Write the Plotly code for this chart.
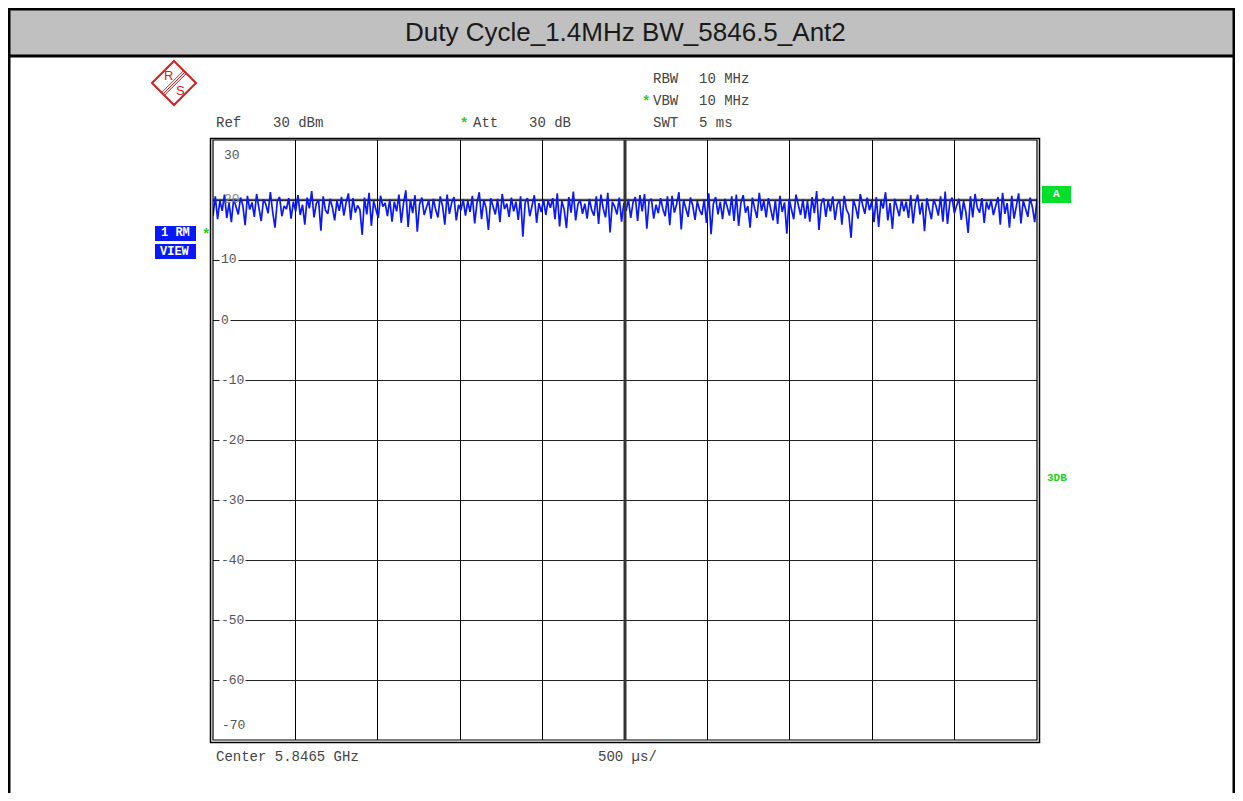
import numpy as np
import plotly.graph_objects as go

# Sweep trace (dBm), 360 points across 5 ms
level_dbm = [
    17.4, 20.6, 16.8, 19.9, 18.2, 20.9, 17.0, 19.5, 16.3, 20.2, 18.9, 17.6, 20.4, 19.1, 15.8, 20.7, 18.4, 19.6, 17.2, 21.0,
    18.7, 16.5, 20.1, 19.3, 17.8, 21.3, 18.0, 15.4, 19.8, 20.5, 17.3, 19.0, 18.5, 20.3, 16.9, 19.7, 18.1, 20.8, 17.5, 19.2,
    15.9, 20.4, 18.6, 21.5, 17.1, 19.4, 20.0, 14.9, 20.6, 18.3, 17.7, 20.2, 18.8, 16.6, 19.9, 18.2, 20.5, 17.4, 19.6, 21.1,
    16.7, 20.3, 17.9, 19.1, 18.4, 14.2, 20.4, 17.6, 21.2, 15.7, 19.8, 18.6, 17.0, 20.7, 18.9, 19.5, 17.3, 20.1, 16.4, 19.7,
    18.1, 20.9, 16.2, 19.4, 21.6, 15.5, 20.0, 17.8, 20.8, 14.7, 19.3, 20.4, 17.5, 18.8, 19.9, 16.9, 20.2, 18.4, 17.1, 20.6,
    19.0, 15.9, 20.9, 17.7, 19.6, 20.5, 16.6, 19.2, 18.3, 20.1, 17.4, 19.8, 18.0, 20.7, 16.1, 19.5, 21.3, 16.8, 20.0, 18.6,
    15.0, 20.3, 19.1, 17.6, 20.2, 16.3, 21.0, 18.5, 19.4, 17.2, 20.4, 18.1, 19.7, 16.7, 20.6, 13.9, 19.6, 20.3, 17.3, 19.0,
    20.8, 16.2, 19.5, 18.0, 20.1, 17.5, 19.9, 18.7, 20.3, 16.8, 21.1, 15.6, 19.8, 18.4, 15.3, 20.5, 17.9, 21.4, 16.6, 19.3,
    20.0, 17.7, 19.4, 16.9, 20.2, 18.3, 17.4, 20.6, 16.0, 20.9, 18.6, 17.1, 21.2, 14.6, 19.7, 18.9, 17.6, 20.4, 16.4, 19.5,
    18.2, 20.1, 17.0, 19.6, 20.5, 16.5, 20.8, 18.1, 21.0, 15.2, 19.9, 20.2, 16.9, 19.2, 17.8, 20.3, 18.5, 17.3, 20.6, 15.8,
    20.7, 17.9, 19.3, 21.3, 15.1, 20.0, 18.8, 17.2, 20.4, 19.1, 16.7, 19.8, 18.3, 17.5, 20.1, 16.2, 21.1, 14.3, 19.4, 20.5,
    17.6, 19.7, 16.8, 20.2, 18.9, 17.4, 20.6, 16.5, 20.9, 15.7, 19.5, 20.8, 17.9, 19.0, 15.4, 20.4, 18.6, 17.0, 21.2, 18.2,
    19.9, 17.1, 20.3, 18.5, 16.6, 20.0, 16.0, 20.7, 18.0, 19.6, 14.4, 20.2, 18.7, 16.8, 20.9, 19.2, 17.5, 20.1, 16.9, 19.8,
    16.4, 20.5, 17.8, 21.5, 15.0, 19.4, 20.3, 17.2, 19.9, 18.1, 20.6, 16.7, 19.3, 20.0, 15.9, 20.7, 18.4, 17.6, 13.7, 20.1,
    18.8, 16.9, 21.0, 19.2, 17.7, 20.4, 18.3, 19.8, 16.3, 20.5, 15.5, 19.9, 18.6, 21.3, 16.6, 19.5, 15.2, 20.2, 18.9, 17.3,
    20.0, 18.1, 19.7, 17.0, 20.8, 16.1, 19.4, 20.9, 17.6, 19.6, 14.8, 20.3, 18.5, 16.8, 20.1, 19.0, 17.4, 20.6, 16.4, 21.4,
    16.0, 19.6, 20.4, 17.8, 19.1, 20.2, 16.7, 19.8, 18.0, 14.5, 20.6, 17.1, 21.0, 18.7, 17.9, 20.3, 16.2, 19.7, 18.4, 20.0,
    17.5, 19.3, 20.5, 15.9, 21.2, 17.7, 19.5, 15.4, 20.7, 16.9, 19.2, 21.1, 16.1, 19.9, 18.6, 17.2, 20.4, 18.8, 16.3, 20.2,
]
sweep_us = 5000
time_us = np.linspace(0, sweep_us, len(level_dbm))

y_labels = [30, 20, 10, 0, -10, -20, -30, -40, -50, -60, -70]
ref_line_dbm = 20

title = "Duty Cycle_1.4MHz BW_5846.5_Ant2"

# page has an 8px body margin, so the figure is drawn 8px in from the window corner
OFF = 8
W, H = 1243 - 2 * OFF, 801 - 2 * OFF
def X(px): return (px - OFF) / W
def Y(py): return 1 - (py - OFF) / H

MONO = "Liberation Mono, Courier New, monospace"
GREY = "#444444"
GREEN = "#22d022"
BLUE = "#0a18ff"
RED = "#d42020"

fig = go.Figure()
fig.add_trace(go.Scatter(
    x=time_us, y=level_dbm, mode="lines",
    line=dict(color=BLUE, width=1.7), hoverinfo="skip", showlegend=False,
))

shapes = []
# frame + header band
shapes.append(dict(type="rect", xref="paper", yref="paper", x0=0, x1=1, y0=Y(56), y1=1,
                   fillcolor="#c0c0c0", line=dict(width=0), layer="below"))
shapes.append(dict(type="line", xref="paper", yref="paper", x0=0, x1=1, y0=Y(56), y1=Y(56),
                   line=dict(color="black", width=3)))
shapes.append(dict(type="line", xref="paper", yref="paper", x0=0, x1=1, y0=1, y1=1,
                   line=dict(color="black", width=5)))
shapes.append(dict(type="line", xref="paper", yref="paper", x0=0, x1=0, y0=0, y1=1,
                   line=dict(color="black", width=5)))
shapes.append(dict(type="line", xref="paper", yref="paper", x0=1, x1=1, y0=0, y1=1,
                   line=dict(color="black", width=5)))
# double border of the diagram
shapes.append(dict(type="rect", xref="paper", yref="paper", x0=X(213), x1=X(1037), y0=Y(740), y1=Y(140),
                   line=dict(color="black", width=1.2)))
shapes.append(dict(type="rect", xref="paper", yref="paper", x0=X(210.5), x1=X(1039.5), y0=Y(742.5), y1=Y(138.5),
                   line=dict(color="black", width=1.5)))
# centre line
shapes.append(dict(type="line", xref="x", yref="paper", x0=sweep_us / 2, x1=sweep_us / 2, y0=Y(740), y1=Y(140),
                   line=dict(color="#333333", width=3)))
# display line at 20 dBm
shapes.append(dict(type="line", xref="paper", yref="y", x0=X(213), x1=X(1037), y0=ref_line_dbm, y1=ref_line_dbm,
                   line=dict(color="#555555", width=2.5), layer="below"))
# blue trace info boxes
shapes.append(dict(type="rect", xref="paper", yref="paper", x0=X(155), x1=X(196), y0=Y(241), y1=Y(226),
                   fillcolor=BLUE, line=dict(width=0)))
shapes.append(dict(type="rect", xref="paper", yref="paper", x0=X(155), x1=X(196), y0=Y(259), y1=Y(244),
                   fillcolor=BLUE, line=dict(width=0)))
# green "A" box
shapes.append(dict(type="rect", xref="paper", yref="paper", x0=X(1042), x1=X(1071), y0=Y(203), y1=Y(186),
                   fillcolor="#00e02a", line=dict(width=0)))
# R&S logo: diamond and band
cx, cy, r = 174, 83, 22
shapes.append(dict(type="path", xref="paper", yref="paper",
                   path=f"M {X(cx-r)} {Y(cy)} L {X(cx)} {Y(cy-r)} L {X(cx+r)} {Y(cy)} L {X(cx)} {Y(cy+r)} Z",
                   line=dict(color=RED, width=2)))
for off in (-2, 0, 2):
    shapes.append(dict(type="line", xref="paper", yref="paper",
                       x0=X(cx + r / 2 + off * 0.7), y0=Y(cy - r / 2 + off * 0.7),
                       x1=X(cx - r / 2 + off * 0.7), y1=Y(cy + r / 2 + off * 0.7),
                       line=dict(color=RED, width=1)))

ann = []
def txt(s, x, y, size=14, color=GREY, anchor="left", bold=False, font=MONO, **kw):
    if bold:
        s = f"<b>{s}</b>"
    ann.append(dict(text=s, x=X(x), y=Y(y), xref="paper", yref="paper", xanchor=anchor, yanchor="middle",
                    showarrow=False, font=dict(family=font, size=size, color=color), **kw))

txt(title, 625, 32, size=26, color="#1a1a1a", anchor="center",
    font="Liberation Sans Narrow, Arial Narrow, Liberation Sans, sans-serif")
txt("R", 168, 76, size=13, color=RED, anchor="center", font="Liberation Sans, sans-serif")
txt("S", 180, 91, size=13, color=RED, anchor="center", font="Liberation Sans, sans-serif")

txt("RBW", 651, 79); txt("10 MHz", 697, 79)
txt("*", 640, 102, color=GREEN, bold=True); txt("VBW", 651, 101); txt("10 MHz", 697, 101)
txt("SWT", 651, 123); txt("5 ms", 697, 123)
txt("Ref", 214, 123); txt("30 dBm", 271, 123)
txt("*", 458, 124, color=GREEN, bold=True); txt("Att", 471, 123); txt("30 dB", 527, 123)
txt("Center 5.8465 GHz", 214, 757)
txt("500 \u00b5s/", 596, 757)

txt("1 RM", 175, 233, size=12, color="white", anchor="center", bold=True)
txt("VIEW", 175, 252, size=12, color="white", anchor="center", bold=True)
txt("*", 200, 235, color=GREEN, bold=True)
txt("A", 1056, 194, size=11, color="white", anchor="center", bold=True)
txt("3DB", 1045, 478, size=11, color=GREEN, bold=True)

# level labels inside the diagram
for v in y_labels:
    s = str(v)
    if v == 30:
        ann.append(dict(text=s, x=X(222), y=v, xref="paper", yref="y", xanchor="left", yanchor="top", yshift=-6,
                        showarrow=False, font=dict(family=MONO, size=13, color="#555555")))
    elif v == -70:
        ann.append(dict(text=s, x=X(220), y=v, xref="paper", yref="y", xanchor="left", yanchor="bottom", yshift=5,
                        showarrow=False, font=dict(family=MONO, size=13, color="#555555")))
    elif v == ref_line_dbm:
        ann.append(dict(text=s, x=X(222), y=v, xref="paper", yref="y", xanchor="left", yanchor="middle",
                        showarrow=False, font=dict(family=MONO, size=13, color="#888888")))
    else:
        ann.append(dict(text=s, x=X(219), y=v, xref="paper", yref="y", xanchor="left", yanchor="middle",
                        showarrow=False, bgcolor="white", borderpad=1,
                        font=dict(family=MONO, size=13, color="#555555")))

fig.update_layout(
    width=W, height=H, autosize=False,
    margin=dict(l=0, r=0, t=0, b=0),
    paper_bgcolor="white", plot_bgcolor="white",
    xaxis=dict(domain=[X(213), X(1037)], range=[0, sweep_us], dtick=500, tick0=0,
               showgrid=True, gridcolor="black", gridwidth=1, showticklabels=False,
               zeroline=False, showline=False, ticks=""),
    yaxis=dict(domain=[Y(740), Y(140)], range=[-70, 30], dtick=10, tick0=-70,
               showgrid=True, gridcolor="#222222", gridwidth=1, showticklabels=False,
               zeroline=False, showline=False, ticks=""),
    shapes=shapes, annotations=ann, showlegend=False,
)

fig.write_html("out.html")
